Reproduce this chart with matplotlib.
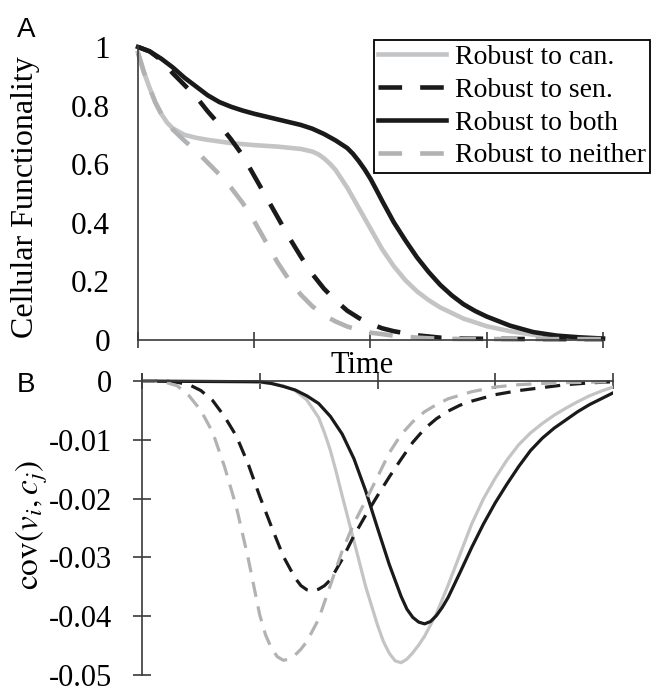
import matplotlib
matplotlib.use("Agg")
import matplotlib.pyplot as plt

# ------------------------------
# Config
# ------------------------------
OUTPUT = "out.png"

plt.rcParams["font.family"] = ["Liberation Serif", "DejaVu Serif"]
plt.rcParams["mathtext.fontset"] = "stix"
plt.rcParams["lines.scale_dashes"] = False

# ------------------------------
# Data (time in arbitrary units 0-4)
# ------------------------------
XTICKS = [0, 1, 2, 3, 4]
LABELS = ["Robust to can.", "Robust to sen.", "Robust to both", "Robust to neither"]

# panel A: cellular functionality
CAN_TOP_T = [0, 0.05, 0.1, 0.15, 0.2, 0.25, 0.3, 0.4, 0.5, 0.6, 0.8, 1.0, 1.2, 1.4, 1.5,
             1.55, 1.6, 1.65, 1.7, 1.8, 1.9, 2.0, 2.1, 2.2, 2.3, 2.4, 2.5, 2.6,
             2.8, 3.0, 3.2, 3.4, 3.6, 3.8, 4.0]
CAN_TOP = [0.980, 0.915, 0.860, 0.810, 0.772, 0.742, 0.722, 0.700, 0.690, 0.683, 0.672, 0.665,
           0.660, 0.652, 0.643, 0.634, 0.620, 0.602, 0.580, 0.520, 0.450, 0.380, 0.310, 0.252,
           0.204, 0.166, 0.136, 0.111, 0.073, 0.047, 0.030, 0.018, 0.011, 0.007, 0.004]

SEN_TOP_T = [0, 0.1, 0.2, 0.3, 0.4, 0.5, 0.6, 0.7, 0.8, 0.9, 1.0, 1.1, 1.2, 1.3, 1.4, 1.5,
             1.6, 1.7, 1.8, 1.9, 2.0, 2.1, 2.2, 2.4, 2.6, 2.8, 3.0, 3.5, 4.0]
SEN_TOP = [1.000, 0.985, 0.955, 0.910, 0.870, 0.830, 0.780, 0.735, 0.685, 0.630, 0.560, 0.490,
           0.420, 0.350, 0.285, 0.225, 0.175, 0.135, 0.100, 0.075, 0.055, 0.040, 0.030, 0.016,
           0.008, 0.005, 0.004, 0.003, 0.003]

BOTH_TOP_T = [0, 0.1, 0.2, 0.3, 0.4, 0.5, 0.6, 0.7, 0.8, 0.9, 1.0, 1.2, 1.4, 1.5, 1.6, 1.7,
              1.8, 1.85, 1.9, 1.95, 2.0, 2.05, 2.1, 2.2, 2.3, 2.4, 2.5, 2.6, 2.7, 2.8, 2.9,
              3.0, 3.2, 3.4, 3.6, 3.8, 4.0]
BOTH_TOP = [1.000, 0.985, 0.960, 0.930, 0.895, 0.865, 0.835, 0.812, 0.796, 0.783, 0.772, 0.753,
            0.734, 0.721, 0.703, 0.681, 0.655, 0.635, 0.610, 0.582, 0.550, 0.513, 0.475, 0.402,
            0.340, 0.282, 0.232, 0.188, 0.152, 0.122, 0.099, 0.080, 0.049, 0.027, 0.015, 0.009,
            0.005]

NEITHER_TOP_T = [0, 0.05, 0.1, 0.15, 0.2, 0.25, 0.3, 0.4, 0.5, 0.6, 0.7, 0.8, 0.9, 1.0, 1.1,
                 1.2, 1.3, 1.4, 1.5, 1.6, 1.7, 1.8, 1.9, 2.0, 2.2, 2.4, 2.6, 3.0, 3.5, 4.0]
NEITHER_TOP = [0.980, 0.915, 0.860, 0.810, 0.772, 0.742, 0.718, 0.680, 0.645, 0.605, 0.565,
               0.520, 0.468, 0.405, 0.335, 0.265, 0.205, 0.155, 0.115, 0.085, 0.063, 0.046,
               0.034, 0.025, 0.015, 0.008, 0.004, 0.003, 0.003, 0.003]

TOP_YTICKS = [0, 0.2, 0.4, 0.6, 0.8, 1]
TOP_YTICK_LABELS = ["0", "0.2", "0.4", "0.6", "0.8", "1"]

# panel B: covariance
CAN_BOT_T = [0, 0.9, 1.0, 1.1, 1.2, 1.3, 1.4, 1.5, 1.55, 1.6, 1.65, 1.7, 1.8, 1.9, 2.0,
             2.05, 2.1, 2.15, 2.2, 2.25, 2.3, 2.35, 2.4, 2.5, 2.6, 2.7, 2.8, 2.9, 3.0,
             3.1, 3.2, 3.3, 3.4, 3.5, 3.6, 3.7, 3.8, 3.9, 4.0]
CAN_BOT = [0, -0.0001, -0.0002, -0.0004, -0.0008, -0.0016, -0.0032, -0.0062, -0.0088, -0.0118,
           -0.0155, -0.0195, -0.0272, -0.0350, -0.0415, -0.0443, -0.0463, -0.0476, -0.0479,
           -0.0473, -0.0462, -0.0449, -0.0434, -0.0396, -0.0347, -0.0295, -0.0243, -0.0200,
           -0.0165, -0.0134, -0.0108, -0.0088, -0.0072, -0.0058, -0.0046, -0.0035, -0.0025,
           -0.0017, -0.0010]

SEN_BOT_T = [0, 0.2, 0.3, 0.4, 0.5, 0.6, 0.7, 0.8, 0.9, 1.0, 1.1, 1.2, 1.3, 1.35, 1.4, 1.45,
             1.5, 1.55, 1.6, 1.7, 1.8, 1.9, 2.0, 2.1, 2.2, 2.3, 2.4, 2.5, 2.6, 2.7, 2.8,
             3.0, 3.2, 3.4, 3.6, 3.8, 4.0]
SEN_BOT = [0, 0, -0.0002, -0.0006, -0.0016, -0.0033, -0.0060, -0.0093, -0.0140, -0.0196,
           -0.0248, -0.0298, -0.0335, -0.0348, -0.0355, -0.0357, -0.0354, -0.0348, -0.0338,
           -0.0303, -0.0263, -0.0228, -0.0195, -0.0163, -0.0133, -0.0104, -0.0081, -0.0064,
           -0.0051, -0.0041, -0.0034, -0.0023, -0.0016, -0.0011, -0.0006, -0.0003, -0.0001]

BOTH_BOT_T = [0, 1.0, 1.1, 1.2, 1.3, 1.4, 1.5, 1.6, 1.7, 1.8, 1.9, 2.0, 2.1, 2.2, 2.25, 2.3,
              2.35, 2.4, 2.45, 2.5, 2.55, 2.6, 2.7, 2.8, 2.9, 3.0, 3.1, 3.2, 3.3, 3.4, 3.5,
              3.6, 3.7, 3.8, 3.9, 4.0]
BOTH_BOT = [0, -0.0001, -0.0004, -0.0009, -0.0015, -0.0025, -0.0038, -0.0060, -0.0090, -0.0132,
            -0.0187, -0.0250, -0.0312, -0.0366, -0.0388, -0.0402, -0.0410, -0.0413, -0.0409,
            -0.0399, -0.0385, -0.0368, -0.0326, -0.0283, -0.0243, -0.0207, -0.0175, -0.0145,
            -0.0118, -0.0097, -0.0080, -0.0066, -0.0052, -0.0040, -0.0030, -0.0020]

NEITHER_BOT_T = [0, 0.1, 0.2, 0.3, 0.4, 0.5, 0.6, 0.7, 0.8, 0.9, 1.0, 1.05, 1.1, 1.15, 1.2,
                 1.25, 1.3, 1.35, 1.4, 1.5, 1.6, 1.7, 1.8, 1.9, 2.0, 2.1, 2.2, 2.3, 2.4, 2.5,
                 2.6, 2.8, 3.0, 3.2, 3.5, 4.0]
NEITHER_BOT = [0, 0, -0.0002, -0.0008, -0.0025, -0.0050, -0.0087, -0.0145, -0.0213, -0.0300,
               -0.0398, -0.0432, -0.0455, -0.0469, -0.0475, -0.0473, -0.0466, -0.0456, -0.0443,
               -0.0405, -0.0347, -0.0289, -0.0242, -0.0203, -0.0163, -0.0122, -0.0091, -0.0069,
               -0.0052, -0.0040, -0.0030, -0.0018, -0.0010, -0.0006, -0.0003, -0.0001]

BOT_YTICKS = [0, -0.01, -0.02, -0.03, -0.04, -0.05]
BOT_YTICK_LABELS = ["0", "-0.01", "-0.02", "-0.03", "-0.04", "-0.05"]

# styles
LIGHT = "#c3c4c6"
GRAY = "#b1b2b4"
BLACK = "#1a1a1a"
AXIS = "#3a3a3a"
W, H = 654, 692


def style_axis(ax):
    for side in ["top", "right"]:
        ax.spines[side].set_visible(False)
    for side in ["left", "bottom"]:
        ax.spines[side].set_color(AXIS)
        ax.spines[side].set_linewidth(1.2)
    ax.set_xlim(0, 4)
    ax.set_xticks(XTICKS)
    ax.set_xticklabels([])
    ax.tick_params(axis="x", direction="inout", length=11, width=1.2, color=AXIS)


def main():
    fig = plt.figure(figsize=(W / 100, H / 100), dpi=100)

    # ---- panel A ----
    ax_a = fig.add_axes([138 / W, 1 - 340 / H, (603 - 138) / W, (340 - 45.5) / H])
    style_axis(ax_a)
    lw = 3.3
    dash = (17, 13)
    ax_a.plot(CAN_TOP_T, CAN_TOP, color=LIGHT, lw=lw, label=LABELS[0], clip_on=False)
    ax_a.plot(SEN_TOP_T, SEN_TOP, color=BLACK, lw=lw, dashes=dash, label=LABELS[1], clip_on=False)
    ax_a.plot(BOTH_TOP_T, BOTH_TOP, color=BLACK, lw=lw, label=LABELS[2], clip_on=False)
    ax_a.plot(NEITHER_TOP_T, NEITHER_TOP, color=GRAY, lw=lw, dashes=dash, label=LABELS[3],
              clip_on=False)
    ax_a.set_ylim(0, 1.005)
    ax_a.set_yticks(TOP_YTICKS)
    ax_a.set_yticklabels(TOP_YTICK_LABELS)
    ax_a.tick_params(axis="y", length=0, pad=20, labelsize=22.5)

    leg = ax_a.legend(loc="upper left", bbox_to_anchor=(374 / W, 1 - 40 / H),
                      bbox_transform=fig.transFigure, fontsize=20,
                      handlelength=2.45, handletextpad=0.3, borderpad=0.15,
                      labelspacing=0.27, borderaxespad=0, fancybox=False,
                      framealpha=1, edgecolor="black")
    leg.get_frame().set_linewidth(1.3)

    # ---- panel B ----
    ax_b = fig.add_axes([142 / W, 1 - 675 / H, (613 - 142) / W, (675 - 373.5) / H])
    style_axis(ax_b)
    ax_b.spines["bottom"].set_position(("data", 0))
    lw = 2.3
    dash = (11, 7)
    ax_b.plot(CAN_BOT_T, CAN_BOT, color=LIGHT, lw=lw)
    ax_b.plot(SEN_BOT_T, SEN_BOT, color=BLACK, lw=lw, dashes=dash)
    ax_b.plot(BOTH_BOT_T, BOTH_BOT, color=BLACK, lw=lw)
    ax_b.plot(NEITHER_BOT_T, NEITHER_BOT, color=GRAY, lw=lw, dashes=dash)
    ax_b.set_ylim(-0.05, 0.0013)
    ax_b.set_yticks(BOT_YTICKS)
    ax_b.set_yticklabels(BOT_YTICK_LABELS)
    ax_b.tick_params(axis="y", direction="inout", length=13, width=1.2, color=AXIS,
                     pad=15, labelsize=22)

    # ---- labels ----
    fig.text(26 / W, 1 - 197 / H, "Cellular Functionality", rotation=90,
             ha="center", va="center", fontsize=23)
    fig.text(32 / W, 1 - 525 / H, r"$\mathrm{cov}(v_i,c_j)$", rotation=90,
             ha="center", va="center", fontsize=24)
    fig.text(362 / W, 1 - 373 / H, "Time", ha="center", va="baseline", fontsize=22)
    fig.text(17 / W, 1 - 37 / H, "A", family="Liberation Sans", fontsize=20, va="baseline")
    fig.text(17 / W, 1 - 392 / H, "B", family="Liberation Sans", fontsize=20, va="baseline")

    fig.savefig(OUTPUT, dpi=100)
    plt.close(fig)


if __name__ == "__main__":
    main()
